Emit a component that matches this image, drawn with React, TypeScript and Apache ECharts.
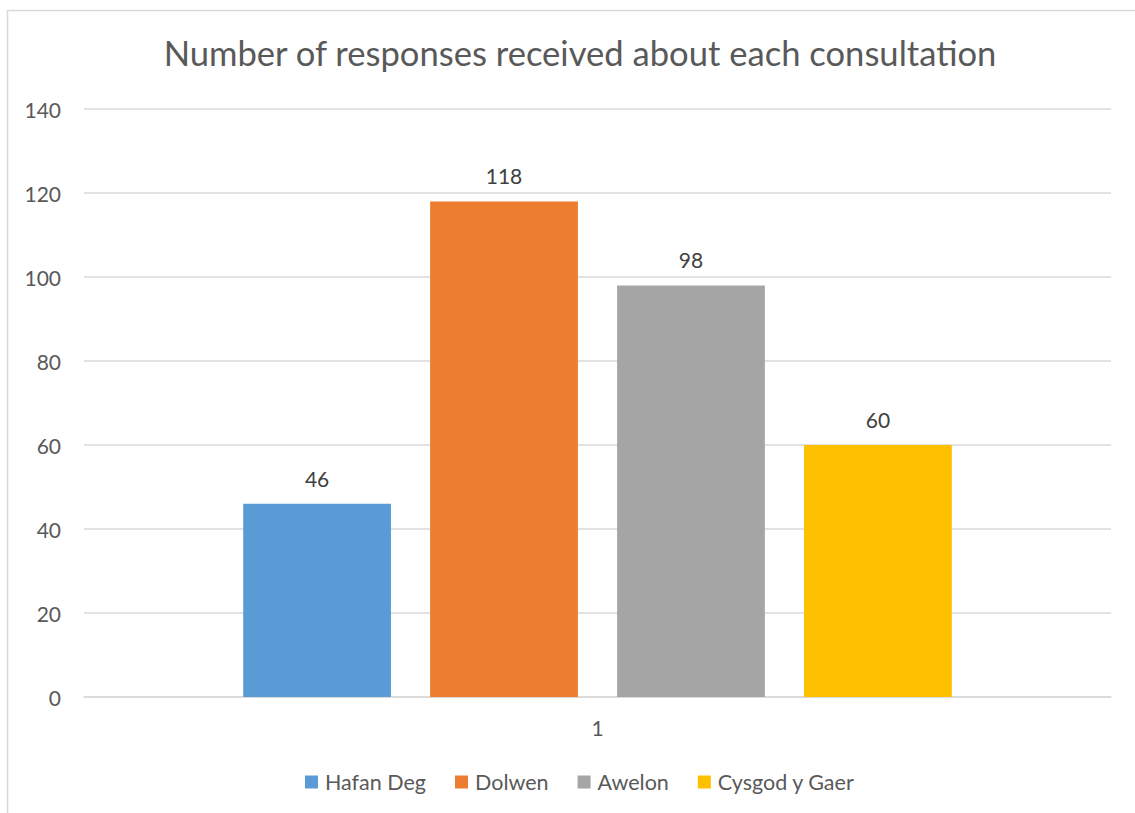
import React, { useEffect, useRef } from "react";
import * as echarts from "echarts";

const categories = ["1"];
const seriesNames = ["Hafan Deg", "Dolwen", "Awelon", "Cysgod y Gaer"];
const seriesValues = [[46], [118], [98], [60]];
const seriesColors = ["#5B9BD5", "#ED7D31", "#A5A5A5", "#FFC000"];
const yTicks = { min: 0, max: 140, interval: 20 };

const FONT = "Lato, 'Open Sans', sans-serif";

export default function App() {
  const ref = useRef<HTMLDivElement>(null);
  useEffect(() => {
    document.body.style.margin = "0";
    const chart = echarts.init(ref.current!, null, { renderer: "svg" });
    chart.setOption({
      animation: false,
      backgroundColor: "#ffffff",
      textStyle: { fontFamily: FONT },
      title: {
        text: "Number of responses received about each consultation",
        left: 575,
        textAlign: "center",
        top: 30,
        textStyle: { fontSize: 34.6, fontWeight: "normal", color: "#595959", fontFamily: FONT },
      },
      graphic: [
        {
          type: "rect",
          shape: { x: 7.5, y: 10.5, width: 1140, height: 820 },
          style: { fill: "none", stroke: "#d9d9d9", lineWidth: 1.5 },
          silent: true,
        },
      ],
      legend: {
        data: seriesNames,
        left: 300,
        top: 766,
        itemWidth: 13,
        itemHeight: 13,
        itemGap: 29,
        icon: "rect",
        textStyle: { fontSize: 21.5, color: "#595959", fontFamily: FONT, padding: [0, 0, 0, 2] },
      },
      grid: { left: 84, right: 24, top: 109, bottom: 116, containLabel: false },
      xAxis: {
        type: "category",
        data: categories,
        axisLine: { show: true, lineStyle: { color: "#d9d9d9", width: 1.5 } },
        axisTick: { show: false },
        axisLabel: { fontSize: 21, color: "#595959", margin: 20, fontFamily: FONT },
      },
      yAxis: {
        type: "value",
        min: yTicks.min,
        max: yTicks.max,
        interval: yTicks.interval,
        axisLine: { show: false },
        axisTick: { show: false },
        splitLine: { lineStyle: { color: "#d9d9d9", width: 1.5 } },
        axisLabel: { fontSize: 21, color: "#595959", margin: 23, fontFamily: FONT },
      },
      series: seriesNames.map((name, i) => ({
        name,
        type: "bar",
        data: seriesValues[i],
        itemStyle: { color: seriesColors[i] },
        barGap: "26.5%",
        barCategoryGap: "31%",
        label: {
          show: true,
          position: "top",
          distance: 15,
          fontSize: 21,
          color: "#404040",
          fontFamily: FONT,
        },
      })),
    });
    return () => chart.dispose();
  }, []);
  return (
    <div
      ref={ref}
      style={{ position: "absolute", left: 0, top: 0, width: 1135, height: 813 }}
    />
  );
}
